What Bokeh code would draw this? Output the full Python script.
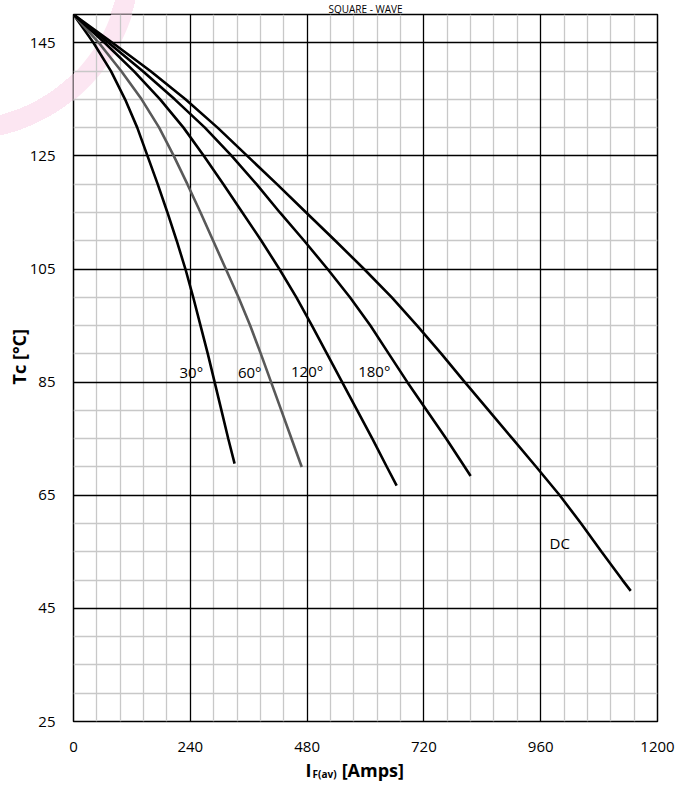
import numpy as np
from bokeh.plotting import figure
from bokeh.models import Range1d, FixedTicker, Grid, LinearAxis, Title, ColumnDataSource, PolyAnnotation
from bokeh.core.properties import value
from bokeh.embed import file_html
from bokeh.resources import INLINE

FONT = "Open Sans"

# ---- data ----
x_major = [0, 240, 480, 720, 960, 1200]
y_major = [25, 45, 65, 85, 105, 125, 145]
x_minor = [v for v in range(48, 1200, 48) if v % 240 != 0]
y_minor = [v for v in range(30, 151, 5) if v not in y_major]

t30 = [150, 145, 140, 135, 130, 125, 120, 115, 110, 105, 100, 95, 90, 85, 80, 75, 70.6]
a30 = [0, 41, 77, 106, 131, 152, 173, 193, 212, 230, 246, 261, 276, 290, 304, 318, 331]

t60 = [150, 145, 140, 135, 130, 125, 120, 115, 110, 105, 100, 95, 90, 85, 80, 75, 70]
a60 = [0, 52, 98, 140, 176, 206, 234, 261, 287, 313, 339, 363, 385, 406, 427, 448, 469]

t120 = [150, 145, 140, 135, 130, 125, 120, 115, 110, 105, 100, 95, 90, 85, 80, 75, 70, 66.7]
a120 = [0, 64, 124, 178, 226, 268, 308, 347, 386, 423, 458, 490, 521, 552, 583, 614, 644, 664]

t180 = [150, 145, 140, 135, 130, 125, 120, 115, 110, 105, 100, 95, 90, 85, 80, 75, 70, 68.4]
a180 = [0, 72, 142, 208, 270, 325, 376, 424, 474, 522, 568, 610, 648, 686, 726, 766, 804, 816]

tdc = [150, 145, 140, 135, 130, 125, 120, 115, 110, 105, 100, 95, 90, 85, 80, 75, 70, 65, 60, 55, 50, 48.1]
adc = [0, 80, 158, 230, 296, 357, 418, 478, 538, 597, 654, 706, 756, 804, 853, 902, 951, 999, 1043, 1085, 1128, 1145]

curve_labels = ["30°", "60°", "120°", "180°", "DC"]
curve_label_x = [242, 362, 480, 618, 999]
curve_label_y = [86.8, 86.8, 87, 87, 56.5]

title_text = "SQUARE - WAVE"
y_title = "Tc [°C]"
x_title_main = {483: "I", 615: "[Amps]"}   # label centre (A) -> text
x_title_sub = {516: "F(av)"}
y_title_pos = 89.5

# watermark ring: centre (page px) and radii
ring_cx, ring_cy, ring_r0, ring_r1 = -40, -40, 160, 180
PINK = "#fce6f2"

# ---- figure ----
FL, FT, FW, FH = 73, 14, 584, 707
p = figure(width=690, height=785, x_range=Range1d(0, 1200), y_range=Range1d(25, 150),
           output_backend="svg", toolbar_location=None, title=None,
           min_border_left=FL, min_border_right=690 - FL - FW, min_border_top=FT,
           min_border_bottom=785 - FT - FH)
p.background_fill_color = "white"
p.border_fill_color = None
p.styles = {"background": f"radial-gradient(circle at {ring_cx}px {ring_cy}px, rgba(255,255,255,0) {ring_r0}px, "
                          f"{PINK} {ring_r0}px, {PINK} {ring_r1}px, rgba(255,255,255,0) {ring_r1}px), white"}
p.outline_line_color = "black"
p.outline_line_width = 1.5

p.add_layout(Title(text=title_text, align="center", text_font=FONT, text_font_size="10px",
                   text_font_style="normal", text_color="black", standoff=-2), "above")

# ring part inside the frame (same circle, mapped into the plot's data space)
th = np.linspace(0, np.pi / 2, 80)
ring_px = np.concatenate([ring_cx + ring_r1 * np.cos(th), ring_cx + ring_r0 * np.cos(th[::-1])])
ring_py = np.concatenate([ring_cy + ring_r1 * np.sin(th), ring_cy + ring_r0 * np.sin(th[::-1])])
ring = PolyAnnotation(xs=[float(v) for v in (ring_px - FL) * 1200 / FW],
                      ys=[float(v) for v in 150 - (ring_py - FT) * 125 / FH],
                      fill_color=PINK, fill_alpha=1, line_color=None, level="underlay")

grids = []
for dim, ticks, col in [(0, x_minor, "#c8c8c8"), (1, y_minor, "#c8c8c8"),
                        (0, x_major, "#000000"), (1, y_major, "#000000")]:
    grids.append(Grid(dimension=dim, ticker=FixedTicker(ticks=ticks),
                      grid_line_color=col, grid_line_width=1.3))
p.center = [ring] + grids

def plain(ax, size, bold=False):
    ax.axis_line_color = None
    ax.major_tick_line_color = None
    ax.minor_tick_line_color = None
    ax.major_tick_out = 0
    ax.major_tick_in = 0
    ax.major_label_text_font = FONT
    ax.major_label_text_font_size = size
    ax.major_label_text_font_style = "bold" if bold else "normal"
    ax.major_label_text_color = "black"

plain(p.xaxis[0], "15px")
plain(p.yaxis[0], "15px")
p.xaxis[0].ticker = FixedTicker(ticks=x_major)
p.yaxis[0].ticker = FixedTicker(ticks=y_major)
p.xaxis[0].major_label_standoff = 20
p.yaxis[0].major_label_standoff = 18

ax_t = LinearAxis(ticker=FixedTicker(ticks=list(x_title_main)),
                  major_label_overrides=x_title_main)
plain(ax_t, "18px", bold=True)
ax_t.major_label_standoff = 3
p.add_layout(ax_t, "below")
ax_s = LinearAxis(ticker=FixedTicker(ticks=list(x_title_sub)),
                  major_label_overrides=x_title_sub)
plain(ax_s, "10px", bold=True)
ax_s.major_label_standoff = -18
p.add_layout(ax_s, "below")

ax_y = LinearAxis(ticker=FixedTicker(ticks=[y_title_pos]),
                  major_label_overrides={y_title_pos: y_title},
                  major_label_orientation="vertical")
plain(ax_y, "18px", bold=True)
ax_y.major_label_standoff = -5
p.add_layout(ax_y, "left")

for a, t, col in [(a30, t30, "black"), (a60, t60, "#595959"), (a120, t120, "black"),
                  (a180, t180, "black"), (adc, tdc, "black")]:
    p.line(a, t, line_color=col, line_width=2.6)

src = ColumnDataSource(dict(x=curve_label_x, y=curve_label_y, t=curve_labels))
p.text(x="x", y="y", text="t", source=src, text_align="center", text_baseline="middle",
       text_font=value(FONT), text_font_size="15px", text_color="black")

open("out.html", "w").write(file_html(p, INLINE))
